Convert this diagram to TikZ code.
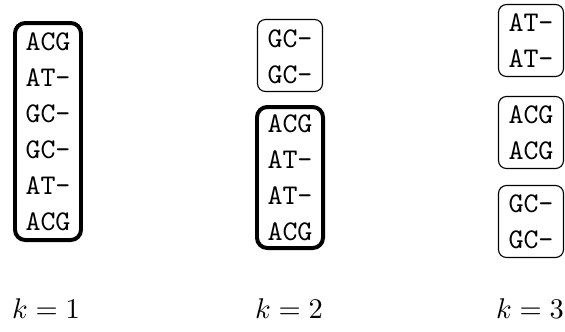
\documentclass[tikz,border=0pt]{standalone}
\tikzset{
  x=0.3509pt, y=-0.3509pt,
  seq/.style={font=\ttfamily, inner sep=0pt, anchor=center},
  group/.style={draw, rounded corners=2.8pt, line width=0.4pt, inner sep=0pt,
    minimum width=65*0.3509pt, minimum height=72*0.3509pt},
  cluster/.style={draw, rounded corners=3.6pt, line width=1.4pt, inner sep=0pt,
    minimum width=66*0.3509pt},
  lbl/.style={inner sep=0pt, anchor=center}
}
\begin{document}
\begin{tikzpicture}
\useasboundingbox (0,0) rectangle (565,331);

% k = 1: one cluster with all six sequences
\node[cluster, minimum height=217*0.3509pt] (c1) at (48,131.5) {};
\foreach \t [count=\i from 0] in {ACG,AT-,GC-,GC-,AT-,ACG}
  \node[seq] (c1r\i) at (48,42+36*\i) {\t};

% k = 2
\node[group] (c2a) at (290,55.5) {};
\foreach \t [count=\i from 0] in {GC-,GC-}
  \node[seq] (c2ar\i) at (290,39+36*\i) {\t};
\node[cluster, minimum height=141*0.3509pt] (c2b) at (290,177.5) {};
\foreach \t [count=\i from 0] in {ACG,AT-,AT-,ACG}
  \node[seq] (c2br\i) at (290,124+36*\i) {\t};

% k = 3
\node[group] (c3a) at (531,40.5) {};
\foreach \t [count=\i from 0] in {AT-,AT-}
  \node[seq] (c3ar\i) at (531,23+36*\i) {\t};
\node[group] (c3b) at (531,132.5) {};
\foreach \t [count=\i from 0] in {ACG,ACG}
  \node[seq] (c3br\i) at (531,115+36*\i) {\t};
\node[group] (c3c) at (531,221.5) {};
\foreach \t [count=\i from 0] in {GC-,GC-}
  \node[seq] (c3cr\i) at (531,204+36*\i) {\t};

% labels
\node[lbl] (k1) at (46,309) {$k=1$};
\node[lbl] (k2) at (289,309) {$k=2$};
\node[lbl] (k3) at (530,309) {$k=3$};
\end{tikzpicture}
\end{document}
